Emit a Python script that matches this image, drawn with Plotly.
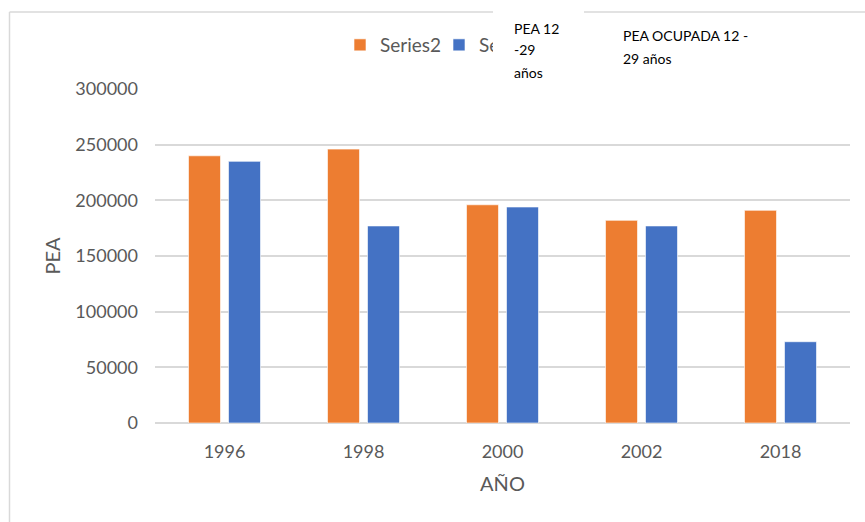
import plotly.graph_objects as go

# ---- data ----
years = ["1996", "1998", "2000", "2002", "2018"]
series2_name = "Series2"
series3_name = "Series3"
series2_values = [240000, 246000, 196000, 182000, 191000]
series3_values = [235000, 177000, 194000, 177000, 73000]
y_ticks = [0, 50000, 100000, 150000, 200000, 250000, 300000]
box1_lines = ["PEA 12", "-29", "años"]
box2_lines = ["PEA OCUPADA 12 -", "29 años"]
x_title = "AÑO"
y_title = "PEA"

# ---- layout geometry (pixels) ----
W, H = 865, 522
L, R, T, B = 155, 15, 89, 99
PW, PH = W - L - R, H - T - B


def px(xp):
    return (xp - L) / PW


def py(yp):
    return (H - B - yp) / PH


FONT = "Lato"
GRAY = "#595959"
GRID = "#d9d9d9"

fig = go.Figure()
fig.add_trace(go.Bar(x=years, y=series2_values, name=series2_name,
                     marker=dict(color="#ED7D31", line=dict(color="rgba(255,255,255,0.6)", width=1))))
fig.add_trace(go.Bar(x=years, y=series3_values, name=series3_name,
                     marker=dict(color="#4472C4", line=dict(color="rgba(255,255,255,0.6)", width=1))))

shapes = [
    # chart-area border (left and top)
    dict(type="line", xref="paper", yref="paper", x0=px(9.5), x1=px(9.5), y0=py(12), y1=py(H + 5),
         line=dict(color=GRID, width=1.5), layer="above"),
    dict(type="line", xref="paper", yref="paper", x0=px(9.5), x1=px(W + 5), y0=py(12), y1=py(12),
         line=dict(color=GRID, width=1.5), layer="above"),
]

annotations = [
    # white text box covering part of the legend
    dict(text=" ", xref="paper", yref="paper", x=px(493), y=py(0), xanchor="left", yanchor="top",
         width=91, height=85, bgcolor="white", borderpad=0, borderwidth=0, showarrow=False),
]
for line, yc in zip(box1_lines, [29, 50, 72]):
    annotations.append(dict(text=line, xref="paper", yref="paper", x=px(513), y=py(yc),
                            xanchor="left", yanchor="middle", showarrow=False, borderpad=0,
                            font=dict(family=FONT, size=14, color="#000000")))
for line, yc in zip(box2_lines, [36, 58]):
    annotations.append(dict(text=line, xref="paper", yref="paper", x=px(622), y=py(yc),
                            xanchor="left", yanchor="middle", showarrow=False, borderpad=0,
                            font=dict(family=FONT, size=14, color="#000000")))

fig.update_layout(
    width=W, height=H, autosize=False,
    margin=dict(l=L, r=R, t=T, b=B, pad=0),
    paper_bgcolor="white", plot_bgcolor="white",
    barmode="group", bargap=0.4245, bargroupgap=0.2,
    font=dict(family=FONT, color=GRAY, size=18),
    showlegend=True,
    legend=dict(orientation="h", x=px(340), y=py(45), xanchor="left", yanchor="middle",
                font=dict(family=FONT, size=19, color=GRAY), bgcolor="rgba(0,0,0,0)",
                traceorder="normal", entrywidth=54, entrywidthmode="pixels"),
    shapes=shapes,
    annotations=annotations,
    xaxis=dict(title=dict(text=x_title, font=dict(size=20, color=GRAY), standoff=15),
               tickfont=dict(size=18, color=GRAY), showgrid=False, showline=False,
               ticks="", ticklabelstandoff=16),
    yaxis=dict(title=dict(text=y_title, font=dict(size=20, color=GRAY), standoff=9),
               range=[0, 300000], tickvals=y_ticks, ticktext=[str(v) for v in y_ticks],
               tickfont=dict(size=18, color=GRAY), showgrid=True, gridcolor=GRID, gridwidth=1.5,
               zeroline=True, zerolinecolor=GRID, zerolinewidth=1.5, showline=False,
               ticks="", ticklabelstandoff=16),
)

fig.write_html("out.html", config={"displayModeBar": False},
               post_script="document.body.style.margin='0';")
